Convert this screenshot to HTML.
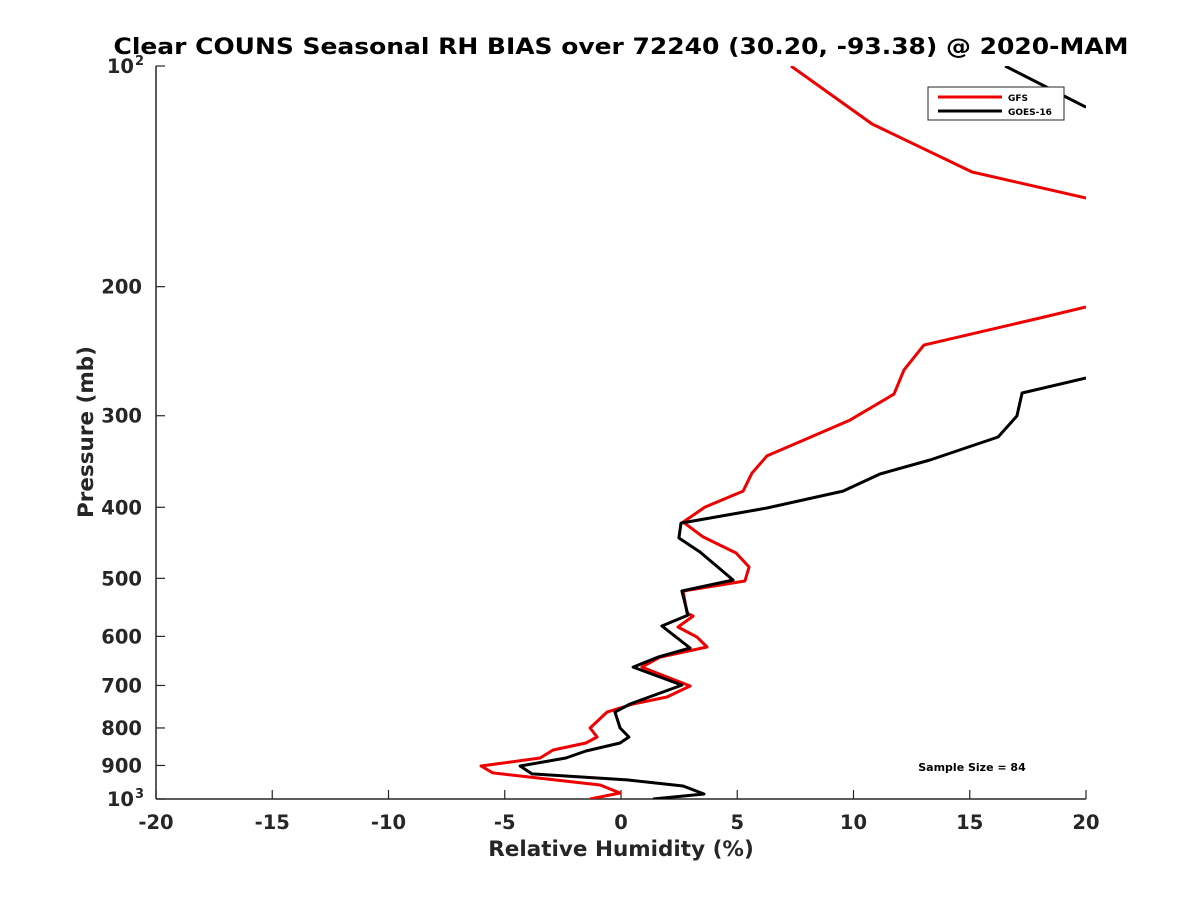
<!DOCTYPE html>
<html><head><meta charset="utf-8"><style>
body{margin:0;background:#fff;}
text{font-family:"DejaVu Sans","Liberation Sans",sans-serif;font-weight:bold;fill:#262626;}
</style></head><body>
<svg id="chart" width="1200" height="900" viewBox="0 0 1200 900">
<rect width="1200" height="900" fill="#fff"/>
<text x="621" y="54" text-anchor="middle" font-size="22" textLength="1015" lengthAdjust="spacingAndGlyphs" style="fill:#000">Clear COUNS Seasonal RH BIAS over 72240 (30.20, -93.38) @ 2020-MAM</text>
<defs><clipPath id="plotclip"><rect x="156" y="66" width="930" height="733"/></clipPath></defs>
<g id="axes"></g>
<g id="series" clip-path="url(#plotclip)"></g>
<text x="621" y="856" text-anchor="middle" font-size="21.5">Relative Humidity (%)</text>
<text transform="translate(93,432) rotate(-90)" text-anchor="middle" font-size="21.5">Pressure (mb)</text>
<text x="972" y="771" text-anchor="middle" font-size="11" style="fill:#000">Sample Size = 84</text>
<g>
<rect x="928" y="87" width="136" height="33" fill="#fff" stroke="#262626" stroke-width="1"/>
<line x1="938" y1="97" x2="1002" y2="97" stroke="#e00" stroke-width="3"/>
<text x="1008" y="101" font-size="9" style="fill:#000">GFS</text>
<line x1="938" y1="111" x2="1002" y2="111" stroke="#000" stroke-width="3"/>
<text x="1008" y="115" font-size="9" style="fill:#000">GOES-16</text>
</g>
</svg>
<script>
const xTicks=[-20,-15,-10,-5,0,5,10,15,20];
const yTicks=[100,200,300,400,500,600,700,800,900,1000];
const yTickLabels=["10|2","200","300","400","500","600","700","800","900","10|3"];
const gfsRH=[7.31,10.80,15.10,20.0,null,20.0,18.02,13.03,12.17,11.74,9.85,6.28,5.63,5.25,3.61,2.67,3.53,4.95,5.51,5.33,2.67,2.84,3.10,2.45,3.27,3.70,1.68,0.90,2.97,1.98,0.52,-0.60,-1.33,-1.03,-1.51,-2.92,-3.48,-6.02,-5.51,-0.90,-0.04,-1.33];
const gfsP=[100,120,139.5,151.4,null,213.2,220.7,240.3,259.8,280.3,304.1,340.4,359.3,380.1,399.7,419,439,461.8,482.5,504.2,520.3,557.6,562.9,582.6,601.3,620.4,640.3,660.7,701.3,725.9,742.1,761,800,823,838.7,857.4,879.2,901.5,921.4,956.9,981.3,1000];
const goesRH=[16.52,20.0,null,20.0,17.25,17.03,16.22,13.29,11.14,9.55,6.28,2.58,2.49,3.40,4.82,2.62,2.88,1.76,2.97,1.59,0.52,2.62,0.39,-0.26,-0.04,0.34,-0.04,-1.51,-2.37,-4.34,-3.83,0.26,2.67,3.57,1.38];
const goesP=[100,113.8,null,266.5,279.3,300.3,320.7,344.8,360.3,380.1,400.9,420.3,440.5,460.3,502.6,520.3,561.2,580.8,622.3,640.3,660.7,699.2,742.1,761,800,823,838.7,860,879.2,901.5,924.3,941.9,960,984.4,1000];
const X0=156,X1=1086,Y0=66,Y1=799;
const xs=v=>X0+(v+20)/40*(X1-X0);
const ys=p=>Y0+Math.log10(p/100)*(Y1-Y0);
const NS="http://www.w3.org/2000/svg";
const axes=document.getElementById('axes');
function mk(tag,attrs,parent){const e=document.createElementNS(NS,tag);for(const k in attrs)e.setAttribute(k,attrs[k]);parent.appendChild(e);return e;}
const xl=mk('line',{x1:X0,y1:Y1,x2:X1,y2:Y1,stroke:'#262626','stroke-width':1.5},axes);


const yl=mk('line',{x1:X0,y1:Y0,x2:X0,y2:Y1,stroke:'#262626','stroke-width':1.5},axes);


xTicks.forEach(v=>{
  const x=xs(v);
  mk('line',{x1:x,y1:Y1,x2:x,y2:Y1-9,stroke:'#262626','stroke-width':1.2},axes);
  const t=mk('text',{x:x,y:Y1+30,'text-anchor':'middle','font-size':19.5},axes);
  t.textContent=String(v);
  
  
});
yTicks.forEach((p,i)=>{
  const y=ys(p);
  mk('line',{x1:X0,y1:y,x2:X0+9,y2:y,stroke:'#262626','stroke-width':1.2},axes);
  const lab=yTickLabels[i];
  if(lab.indexOf('|')>=0){
    const parts=lab.split('|');
    const t=mk('text',{x:X0-22,y:y+7,'text-anchor':'end','font-size':19.5},axes);
    t.textContent=parts[0];
    
    
    const s=mk('text',{x:X0-21,y:y-1,'text-anchor':'start','font-size':13},axes);
    s.textContent=parts[1];
    
    
  } else {
    const t=mk('text',{x:X0-14,y:y+7,'text-anchor':'end','font-size':19.5},axes);
    t.textContent=lab;
    
    
  }
});
function pathFor(rh,p){let d='',pen=false;for(let i=0;i<rh.length;i++){if(rh[i]===null){pen=false;continue;}d+=(pen?'L':'M')+xs(rh[i]).toFixed(1)+' '+ys(p[i]).toFixed(1);pen=true;}return d;}
const ser=document.getElementById('series');
const g1=mk('path',{d:pathFor(gfsRH,gfsP),fill:'none',stroke:'#e00','stroke-width':3,'stroke-linejoin':'round'},ser);


const g2=mk('path',{d:pathFor(goesRH,goesP),fill:'none',stroke:'#000','stroke-width':3,'stroke-linejoin':'round'},ser);


</script>
</body></html>
